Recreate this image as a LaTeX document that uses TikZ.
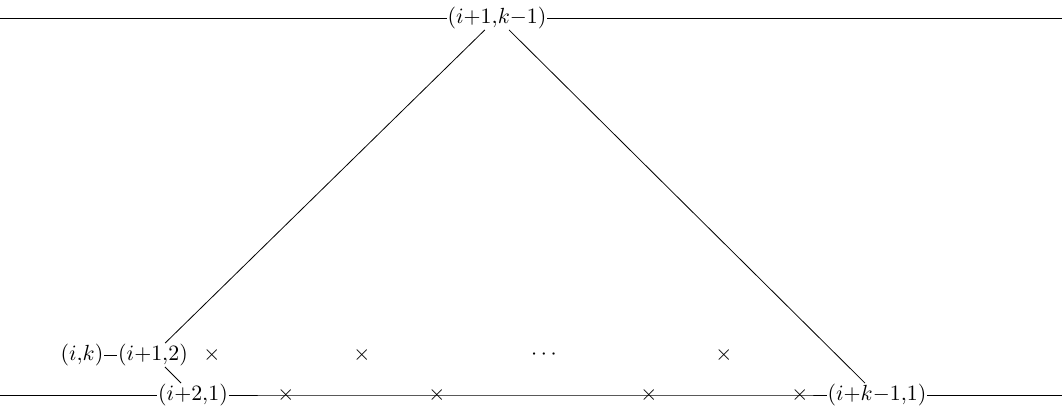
\documentclass[tikz,border=0pt]{standalone}
\begin{document}
\begin{tikzpicture}[x=0.5pt,y=-0.5pt,
  every node/.style={font=\fontsize{11}{13}\selectfont},
  lbl/.style={inner sep=0.5pt,outer sep=0pt},
  crs/.style={inner sep=0pt,outer sep=0pt}]
\useasboundingbox (0,0) rectangle (1062,412);
% top row
\coordinate (tl) at (0,18);
\coordinate (tr) at (1062,18);
\node[lbl] (top) at (497,18) {$(i{+}1{,}k{-}1)$};
% middle row
\node[lbl] (ik) at (82,355) {$(i{,}k)$};
\node[lbl] (i12) at (153,355) {$(i{+}1{,}2)$};
\node[crs] (m1) at (212,355) {$\times$};
\node[crs] (m2) at (362,355) {$\times$};
\node[crs] (dots) at (544,355) {$\cdots$};
\node[crs] (m3) at (724,355) {$\times$};
% bottom row
\coordinate (bl) at (0,395);
\coordinate (br) at (1062,395);
\node[lbl] (i21) at (193,395) {$(i{+}2{,}1)$};
\node[crs] (b1) at (286,395) {$\times$};
\node[crs] (b2) at (437,395) {$\times$};
\node[crs] (b3) at (649,395) {$\times$};
\node[crs] (b4) at (800,395) {$\times$};
\node[lbl] (ik1) at (877,395) {$(i{+}k{-}1{,}1)$};
% connectors
\draw (tl) -- (top) -- (tr);
\draw (top) -- (i12);
\draw (top) -- (ik1);
\draw (ik) -- (i12);
\draw (i12) -- (i21);
\draw (bl) -- (i21);
\draw (i21) -- (b1.center) -- (b2.center) -- (b3.center) -- (b4.center) -- (ik1);
\draw (ik1) -- (br);
\end{tikzpicture}
\end{document}
